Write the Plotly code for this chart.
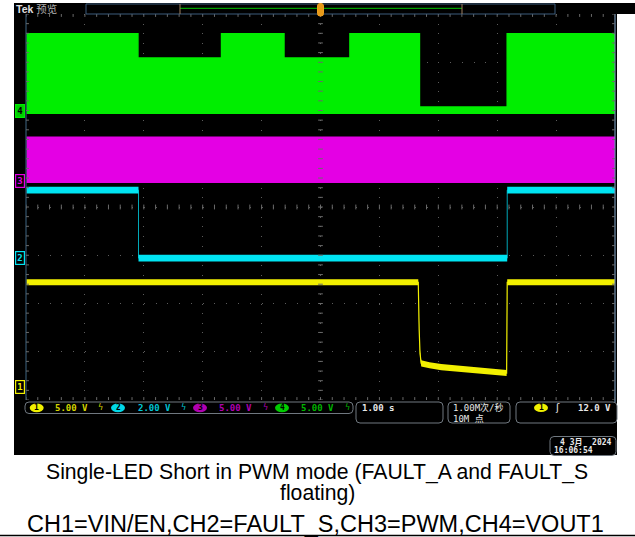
import plotly.graph_objects as go

W, H = 635, 537

# ---------------- data (read from the screen) ----------------
# time axis: 1.00 s/div, 10 divisions
time_ticks = [0, 1, 2, 3, 4, 5, 6, 7, 8, 9, 10]

# CH4 = VOUT1 (switching, drawn as envelope)
t_ch4 = [0, 1.90, 3.32, 4.38, 5.50, 6.68, 8.17, 10]
v_ch4_max = [8.0, 5.5, 8.0, 5.5, 8.0, 0.4, 8.0, 8.0]
v_ch4_min = [-0.3, -0.3, -0.3, -0.3, -0.3, -0.3, -0.3, -0.3]

# CH3 = PWM (fast switching, drawn as envelope)
t_ch3 = [0, 10]
v_ch3_max = [4.6, 4.6]
v_ch3_min = [-0.2, -0.2]

# CH2 = FAULT_S
t_ch2 = [0, 1.91, 8.17, 10]
v_ch2 = [2.82, 0.0, 2.82, 2.82]

# CH1 = VIN/EN
t_ch1 = [0, 6.66, 6.675, 6.69, 6.71, 6.85, 7.05, 7.35, 7.70, 8.16, 8.17, 10]
v_ch1 = [10.9, 10.9, 6.0, 3.5, 2.5, 2.3, 2.1, 1.95, 1.75, 1.5, 10.9, 10.9]

# channel settings (V/div, ground offset in div) and labels
ch_names = ["1", "2", "3", "4"]
ch_scale = [5.0, 2.0, 5.0, 5.0]
ch_offset = [-3.74, -1.06, 0.54, 1.99]
ch_scale_text = ["5.00 V", "2.00 V", "5.00 V", "5.00 V"]
timebase_text = "1.00 s"
rate_text = ["1.00M次/秒", "10M 点"]
trigger_text = "12.0 V"
date_text = ["4 3月  2024", "16:06:54"]
caption = ["Single-LED Short in PWM mode (FAULT_A and FAULT_S", "floating)",
           "CH1=VIN/EN,CH2=FAULT_S,CH3=PWM,CH4=VOUT1"]

# ---------------- style ----------------
COL = ["#f2f000", "#00e4f2", "#e400e4", "#00ee00"]
TXT = ["#d4d400", "#00c4d4", "#b000b0", "#00b400"]
BADGE = ["#f0f000", "#00d8e8", "#b000b0", "#00cc00"]
MONO = "DejaVu Sans Mono, Noto Sans CJK SC"

X0, X1, Y0, Y1 = 26, 615, 14, 400  # graticule in px


def px(x):
    return x / W


def py(y):
    return 1 - y / H


fig = go.Figure()


def band(t, vmax, vmin, axis, color, shape):
    fig.add_trace(go.Scatter(x=t, y=vmin, yaxis=axis, mode="lines",
                             line=dict(width=0, shape=shape), hoverinfo="skip",
                             showlegend=False))
    fig.add_trace(go.Scatter(x=t, y=vmax, yaxis=axis, mode="lines",
                             line=dict(width=0, shape=shape), fill="tonexty",
                             fillcolor=color, hoverinfo="skip", showlegend=False))


# CH4 envelope
band(t_ch4, v_ch4_max, v_ch4_min, "y5", COL[3], "hv")
fig.add_trace(go.Scatter(x=t_ch4, y=v_ch4_max, yaxis="y5", mode="lines",
                         line=dict(width=1.5, color=COL[3], shape="hv"),
                         showlegend=False, hoverinfo="skip"))
# CH3 envelope
band(t_ch3, v_ch3_max, v_ch3_min, "y4", COL[2], "hv")

# CH2 (thin trace for the edges, noise band on top)
R2 = 0.14
fig.add_trace(go.Scatter(x=t_ch2, y=v_ch2, yaxis="y3", mode="lines",
                         line=dict(width=1, color="#00a8b8", shape="hv"),
                         showlegend=False, hoverinfo="skip"))
band(t_ch2, [v + R2 for v in v_ch2], [v - R2 for v in v_ch2], "y3", COL[1], "hv")
# CH1
R1 = 0.32
fig.add_trace(go.Scatter(x=t_ch1, y=v_ch1, yaxis="y2", mode="lines",
                         line=dict(width=1.2, color=COL[0]),
                         showlegend=False, hoverinfo="skip"))
band(t_ch1, [v + R1 for v in v_ch1], [v - R1 for v in v_ch1], "y2", COL[0], "linear")

ydom = [py(Y1), py(Y0)]
layout = dict(
    width=W, height=H, margin=dict(l=0, r=0, t=0, b=0),
    paper_bgcolor="white", plot_bgcolor="black", showlegend=False,
    xaxis=dict(domain=[px(X0), px(X1)], range=[time_ticks[0], time_ticks[-1]],
               tickvals=time_ticks, showticklabels=False, ticks="",
               showgrid=True, gridcolor="#5c5c5c", gridwidth=1,
               griddash="1px,8.65px", zeroline=False, showline=False, fixedrange=True),
    yaxis=dict(domain=ydom, range=[-4, 4], dtick=1, showticklabels=False, ticks="",
               showgrid=True, gridcolor="#5c5c5c", gridwidth=1,
               griddash="1px,10.78px", zeroline=False, showline=False, fixedrange=True),
)
for i in range(4):
    s, o = ch_scale[i], ch_offset[i]
    layout["yaxis%d" % (i + 2)] = dict(overlaying="y", range=[(-4 - o) * s, (4 - o) * s],
                                       visible=False, fixedrange=True)
fig.update_layout(**layout)

shapes = []
# scope black background
shapes.append(dict(type="rect", xref="paper", yref="paper", x0=px(14), x1=px(617),
                   y0=py(455), y1=py(3), fillcolor="black", line_width=0, layer="below"))
shapes.append(dict(type="rect", xref="paper", yref="paper", x0=px(14), x1=px(635),
                   y0=py(14), y1=py(3), fillcolor="black", line_width=0, layer="below"))
# bottom rule
shapes.append(dict(type="line", xref="paper", yref="paper", x0=0, x1=1,
                   y0=py(535.5), y1=py(535.5), line=dict(color="black", width=1.5)))

# graticule frame
shapes.append(dict(type="line", xref="paper", yref="paper", x0=px(X0), x1=px(X0),
                   y0=py(Y1), y1=py(Y0), line=dict(color="#2a4458", width=1.5)))
shapes.append(dict(type="line", xref="paper", yref="paper", x0=px(X1), x1=px(X1),
                   y0=py(Y1 + 2), y1=py(Y0), line=dict(color="#7090b0", width=1.2)))

# minor ticks: centre cross and edges
tick_col = "#6a6a6a"
for k in range(51):
    xv = k * 0.2
    shapes.append(dict(type="line", xref="x", yref="y", x0=xv, x1=xv, y0=-0.05, y1=0.05,
                       line=dict(color=tick_col, width=1)))
    shapes.append(dict(type="line", xref="x", yref="y", x0=xv, x1=xv, y0=3.94, y1=4,
                       line=dict(color=tick_col, width=1)))
    shapes.append(dict(type="line", xref="x", yref="y", x0=xv, x1=xv, y0=-4, y1=-3.94,
                       line=dict(color=tick_col, width=1)))
for k in range(41):
    yv = -4 + k * 0.2
    shapes.append(dict(type="line", xref="x", yref="y", x0=4.96, x1=5.04, y0=yv, y1=yv,
                       line=dict(color=tick_col, width=1)))
    shapes.append(dict(type="line", xref="x", yref="y", x0=0, x1=0.05, y0=yv, y1=yv,
                       line=dict(color=tick_col, width=1)))
    shapes.append(dict(type="line", xref="x", yref="y", x0=9.95, x1=10, y0=yv, y1=yv,
                       line=dict(color=tick_col, width=1)))


def rrect(x0, y0, x1, y1, r, color, width=1, fill=None):
    p = "M{},{} L{},{} Q{},{} {},{} L{},{} Q{},{} {},{} L{},{} Q{},{} {},{} L{},{} Q{},{} {},{} Z".format(
        px(x0 + r), py(y0), px(x1 - r), py(y0), px(x1), py(y0), px(x1), py(y0 + r),
        px(x1), py(y1 - r), px(x1), py(y1), px(x1 - r), py(y1),
        px(x0 + r), py(y1), px(x0), py(y1), px(x0), py(y1 - r),
        px(x0), py(y0 + r), px(x0), py(y0), px(x0 + r), py(y0))
    d = dict(type="path", xref="paper", yref="paper", path=p,
             line=dict(color=color, width=width))
    if fill:
        d["fillcolor"] = fill
    shapes.append(d)


# top record-view bar
shapes.append(dict(type="rect", xref="paper", yref="paper", x0=px(86), x1=px(555),
                   y0=py(14), y1=py(4), line=dict(color="#3c5c7c", width=1)))
shapes.append(dict(type="line", xref="paper", yref="paper", x0=px(180), x1=px(462),
                   y0=py(8.3), y1=py(8.3), line=dict(color="#00a000", width=1.2)))
for xx in (180, 462):
    shapes.append(dict(type="line", xref="paper", yref="paper", x0=px(xx), x1=px(xx),
                       y0=py(14), y1=py(4), line=dict(color="#a08060", width=1)))
rrect(317.5, 3.5, 323.5, 16, 2.5, "#f0a020", 1, "#e89a18")

# status boxes
rrect(25, 402, 353, 413.5, 4, "#707880")
rrect(356, 402, 443, 423, 4, "#707880")
rrect(448, 402, 510, 423, 4, "#707880")
rrect(516, 402, 617, 423, 4, "#707880")
rrect(550, 436.5, 616, 455.5, 4, "#707880")

annotations = []


def txt(x, y, text, size, color, family=MONO, xa="center", **kw):
    d = dict(x=px(x), y=py(y), xref="paper", yref="paper", xanchor=xa, yanchor="middle",
             text=text, showarrow=False, font=dict(family=family, size=size, color=color))
    d.update(kw)
    annotations.append(d)


badge_x = [36.7, 118, 200, 282]
text_x = [53, 136, 217, 299]
sym_x = [100.7, 183, 265, 347]
for i in range(4):
    bx = badge_x[i]
    shapes.append(dict(type="circle", xref="paper", yref="paper",
                       x0=px(bx - 7), x1=px(bx + 7), y0=py(412.2), y1=py(403.4),
                       fillcolor=BADGE[i], line_width=0))
    txt(bx, 407.9, "<b>%s</b>" % ch_names[i], 8, "black")
    txt(text_x[i], 407.9, "<b>%s</b>" % ch_scale_text[i], 9, TXT[i], xa="left")
    txt(sym_x[i], 407.9, "ϟ", 8, TXT[i], family="DejaVu Sans")

# trigger badge
shapes.append(dict(type="circle", xref="paper", yref="paper", x0=px(534), x1=px(548),
                   y0=py(412), y1=py(403.4), fillcolor=BADGE[0], line_width=0))
txt(541, 407.8, "<b>1</b>", 8, "black")
txt(557, 407.5, "ʃ", 10, "#e8e8e8", family="DejaVu Sans")
txt(613, 407.8, "<b>%s</b>" % trigger_text, 9, "#e8e8e8", xa="right")
txt(360, 407.8, "<b>%s</b>" % timebase_text, 9, "#e8e8e8", xa="left")
txt(451, 407.5, rate_text[0], 9, "#e8e8e8", xa="left")
txt(451, 418.5, rate_text[1], 9, "#e8e8e8", xa="left")
txt(614, 442, "<b>%s</b>" % date_text[0], 8, "#e8e8e8", xa="right")
txt(552, 450.5, "<b>%s</b>" % date_text[1], 8, "#e8e8e8", xa="left")

# Tek header
txt(14, 9, "<b>Tek</b> <span style='color:#b0b0b0'>预览</span>", 10.5, "#e0e0e0",
    family="Liberation Sans, Noto Sans CJK SC", xa="left")

# channel ground markers on the left
for i in range(4):
    sel = (i == 3)
    annotations.append(dict(x=px(19.5), y=0, xref="paper", yref="y%d" % (i + 2),
                            xanchor="center", yanchor="middle",
                            text="<b>%s</b>" % ch_names[i], showarrow=False,
                            font=dict(family=MONO, size=9,
                                      color="black" if sel else COL[i]),
                            bgcolor=BADGE[i] if sel else "black",
                            bordercolor=COL[i], borderwidth=1.2, borderpad=1))

# caption
txt(317, 471.5, caption[0], 21.2, "black", family="Liberation Sans, Arial")
txt(317, 493.5, caption[1], 21.2, "black", family="Liberation Sans, Arial")
txt(315, 523.5, caption[2], 23.5, "black", family="Liberation Sans, Arial")

fig.update_layout(shapes=shapes, annotations=annotations)
fig.write_html("out.html", config={"displayModeBar": False},
               post_script="document.body.style.margin='0px';")
